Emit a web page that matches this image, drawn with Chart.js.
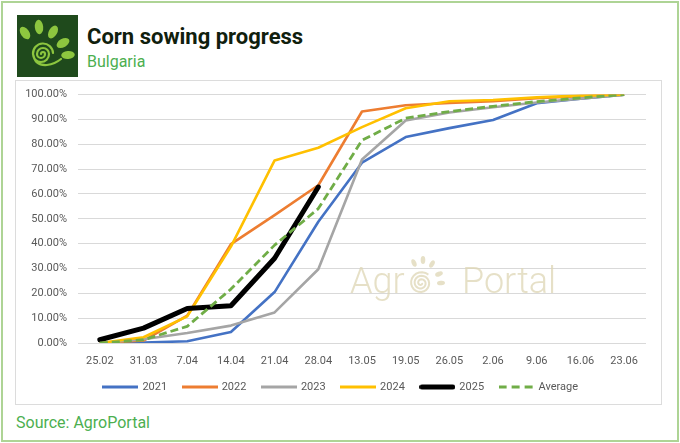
<!DOCTYPE html>
<html>
<head>
<meta charset="utf-8">
<script src="https://cdn.jsdelivr.net/npm/chart.js@4.4.1/dist/chart.umd.min.js"></script>
<style>
  html, body { margin: 0; padding: 0; background: #fff; }
  #frame { position: absolute; left: 1px; top: 1px; width: 674px; height: 437px; border: 2px solid #aed495; background: #fff; }
  #logo { position: absolute; left: 17px; top: 15px; width: 61px; height: 62px; }
  #title { position: absolute; left: 87px; top: 24px; font-family: Roboto, sans-serif; font-weight: 700; font-size: 22px; color: #10200d; white-space: nowrap; }
  #subtitle { position: absolute; left: 87px; top: 52px; font-family: Roboto, sans-serif; font-size: 16px; color: #4caf50; white-space: nowrap; }
  #card { position: absolute; left: 15px; top: 80px; width: 645px; height: 323px; border: 1px solid #dcdcdc; background: #fff; }
  #wrap { position: absolute; left: 0; top: -4px; width: 645px; height: 327px; }
  #source { position: absolute; left: 16px; top: 413px; font-family: Roboto, sans-serif; font-size: 16px; color: #4caf50; white-space: nowrap; }
</style>
</head>
<body>
<div id="frame"></div>
<svg id="logo" viewBox="0 0 61 62" xmlns="http://www.w3.org/2000/svg">
  <rect x="0" y="0" width="61" height="62" fill="#1f4a1c"/>
  <g fill="#8dc63f">
    <ellipse cx="8" cy="18" rx="4.2" ry="7" transform="rotate(-35 8 18)"/>
    <ellipse cx="22" cy="12" rx="4.2" ry="7.2" transform="rotate(-5 22 12)"/>
    <ellipse cx="36" cy="17" rx="4.2" ry="7" transform="rotate(30 36 17)"/>
    <ellipse cx="46" cy="28" rx="4.2" ry="7" transform="rotate(60 46 28)"/>
    <ellipse cx="51" cy="40" rx="4" ry="6.8" transform="rotate(85 51 40)"/>
  </g>
  <path d="M24,39 a2,2 0 0 1 4,0 a4,4 0 0 1 -8,0 a6,6 0 0 1 12,0 a8,8 0 0 1 -16,0 a10,10 0 0 1 20,-1 M16,39 q2,12 14,11 q8,-1 14,-6" fill="none" stroke="#8dc63f" stroke-width="2.2" stroke-linecap="round"/>
</svg>
<div id="title">Corn sowing progress</div>
<div id="subtitle">Bulgaria</div>
<div id="card"><div id="wrap"><canvas id="c"></canvas></div></div>
<div id="source">Source: AgroPortal</div>

<script>
const categories = ['25.02','31.03','7.04','14.04','21.04','28.04','13.05','19.05','26.05','2.06','9.06','16.06','23.06'];
const seriesNames = ['2021','2022','2023','2024','2025','Average'];
const v2021 = [0, 0.2, 0.7, 4.4, 20.5, 48.8, 72.6, 82.9, 86.5, 89.8, 96.5, 98.3, 100];
const v2022 = [0, 1.0, 11.0, 39.8, 51.5, 63.5, 93.2, 95.7, 96.6, 97.3, 98.5, 99.4, 100];
const v2023 = [0, 1.5, 4.0, 7.0, 12.3, 29.7, 73.9, 89.6, 92.8, 94.9, 96.8, 98.3, 100];
const v2024 = [0, 2.3, 10.7, 38.8, 73.5, 78.6, 86.9, 94.5, 97.3, 97.8, 98.9, 99.6, 100];
const v2025 = [1.3, 6.0, 13.9, 15.0, 34.1, 62.8, null, null, null, null, null, null, null];
const vAverage = [0, 1.3, 6.7, 21.7, 39.4, 54.1, 81.6, 90.5, 93.2, 95.3, 97.2, 98.7, 100];
const yTickMin = 0, yTickMax = 100, yTickStep = 10;

const colors = ['#4472c4', '#ed7d31', '#a5a5a5', '#ffc000', '#000000', '#70ad47'];
const widths = [2.6, 2.6, 2.6, 2.6, 5, 2.8];

function legendImg(color, w, dash, cap) {
  const c = document.createElement('canvas');
  c.width = 36; c.height = 8;
  const g = c.getContext('2d');
  g.strokeStyle = color; g.lineWidth = w; g.lineCap = cap || 'butt';
  g.setLineDash(dash || []);
  g.beginPath();
  const pad = cap === 'round' ? w / 2 : 0;
  g.moveTo(pad, 4); g.lineTo(36 - pad, 4); g.stroke();
  return c;
}
const legendImgs = [
  legendImg(colors[0], 3), legendImg(colors[1], 3), legendImg(colors[2], 3),
  legendImg(colors[3], 3), legendImg(colors[4], 5, null, 'round'),
  legendImg(colors[5], 3, [8, 5])
];

const allValues = [v2021, v2022, v2023, v2024, v2025, vAverage];
const datasets = allValues.map((vals, i) => ({
  label: seriesNames[i],
  data: vals,
  borderColor: colors[i],
  backgroundColor: colors[i],
  borderWidth: widths[i],
  borderDash: i === 5 ? [8, 4] : [],
  borderCapStyle: i === 4 ? 'round' : 'butt',
  borderJoinStyle: 'round',
  pointRadius: 0,
  pointHoverRadius: 0,
  tension: 0,
  fill: false,
  spanGaps: false,
  order: 6 - i
}));

const watermark = {
  id: 'watermark',
  beforeDatasetsDraw(chart) {
    const ctx = chart.ctx;
    ctx.save();
    ctx.translate(0, 4);
    const col = 'rgba(221,213,180,0.75)';
    ctx.fillStyle = col;
    ctx.font = '300 36px Roboto, sans-serif';
    ctx.textBaseline = 'alphabetic';
    ctx.textAlign = 'left';
    ctx.fillText('Agr', 334, 212);
    ctx.fillText('Portal', 446, 212);
    ctx.strokeStyle = col; ctx.lineWidth = 2;
    const cx = 405, cy = 202;
    ctx.beginPath();
    for (let k = 0; k <= 60; k++) {
      const a = k * 0.3, r = 1 + k * 0.17;
      const x = cx + r * Math.cos(a), y = cy + r * Math.sin(a);
      if (k === 0) ctx.moveTo(x, y); else ctx.lineTo(x, y);
    }
    ctx.stroke();
    const leaves = [[398, 182, -0.4], [407, 179, 0], [416, 183, 0.5], [423, 193, 1.2], [425, 202, 1.5]];
    leaves.forEach(([x, y, rot]) => {
      ctx.beginPath();
      ctx.ellipse(x, y, 2.3, 4, rot, 0, Math.PI * 2);
      ctx.fill();
    });
    ctx.restore();
  }
};

new Chart(document.getElementById('c'), {
  type: 'line',
  data: { labels: categories, datasets },
  plugins: [watermark],
  options: {
    responsive: true,
    maintainAspectRatio: false,
    animation: false,
    events: [],
    layout: { padding: { left: 5, right: 0, top: 0, bottom: 1.5 } },
    plugins: {
      tooltip: { enabled: false },
      title: { display: false },
      legend: {
        display: true,
        position: 'bottom',
        labels: {
          usePointStyle: true,
          pointStyleWidth: 33,
          padding: 16,
          color: '#595959',
          font: { family: 'Roboto, sans-serif', size: 11 },
          generateLabels(chart) {
            return chart.data.datasets.map((ds, i) => ({
              text: ds.label,
              fillStyle: ds.borderColor,
              strokeStyle: ds.borderColor,
              lineWidth: 0,
              pointStyle: legendImgs[i],
              hidden: false,
              datasetIndex: i,
              fontColor: '#595959'
            }));
          }
        }
      }
    },
    scales: {
      x: {
        type: 'category',
        offset: true,
        grid: { display: false, drawTicks: false },
        border: { display: false },
        ticks: { color: '#595959', font: { family: 'Roboto, sans-serif', size: 11 }, padding: 12, maxRotation: 0, autoSkip: false },
        afterFit(s) { s.height = 22.5; }
      },
      y: {
        min: yTickMin,
        max: yTickMax,
        grid: { color: '#d9d9d9', lineWidth: 1, drawTicks: false },
        border: { display: false },
        ticks: {
          stepSize: yTickStep,
          color: '#595959',
          font: { family: 'Roboto, sans-serif', size: 11 },
          padding: 11,
          callback: v => v.toFixed(2) + '%'
        },
        afterFit(s) { s.width = 57; }
      },
      yRightSpace: {
        position: 'right',
        display: true,
        grid: { display: false, drawTicks: false },
        border: { display: false },
        ticks: { display: false },
        afterFit(s) { s.width = 15; }
      }
    }
  }
});
</script>
</body>
</html>
